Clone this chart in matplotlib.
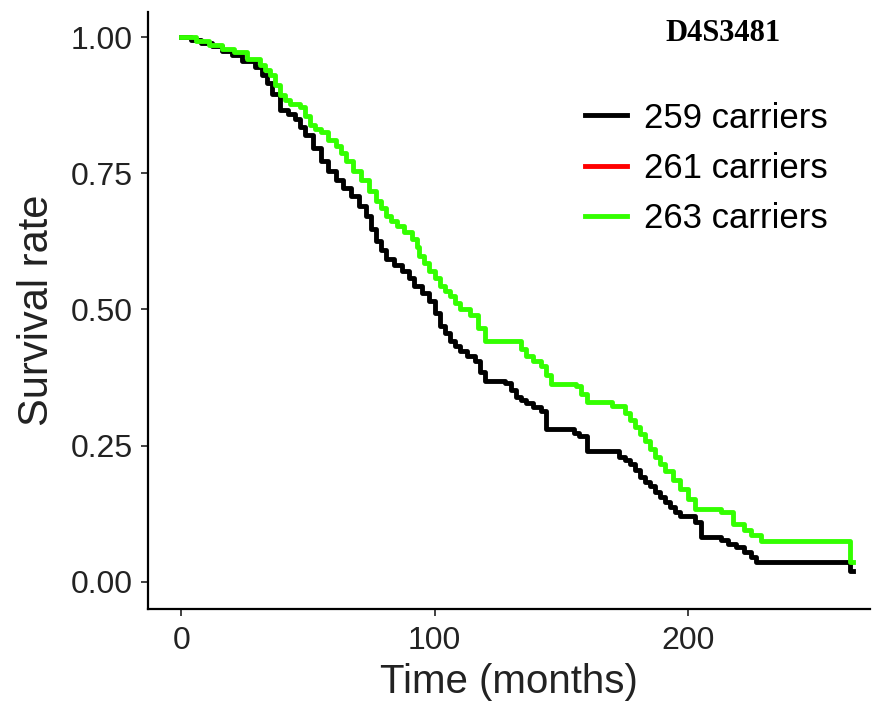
import matplotlib
matplotlib.use("Agg")
import matplotlib.pyplot as plt
from matplotlib.lines import Line2D

plt.rcParams['font.family'] = ['Liberation Sans', 'DejaVu Sans']

# Kaplan-Meier curves (months, survival)
t_259 = [0, 4, 8, 12, 16, 20, 24, 29, 32, 34, 36, 39, 42, 45, 47, 49, 52, 55,
         58, 61, 64, 67, 70, 73, 75, 77, 79, 81, 84, 87, 90, 92, 95, 98, 100,
         102, 104, 106, 108, 110, 113, 116, 118, 120, 128, 130, 132, 134, 136,
         139, 142, 144, 152, 155, 157, 160, 170, 173, 175, 177, 179, 181, 183,
         185, 187, 189, 191, 193, 195, 197, 203, 205, 213, 216, 219, 222, 225,
         227, 264, 265]
s_259 = [1.0, 0.995, 0.99, 0.983, 0.975, 0.967, 0.957, 0.945, 0.93, 0.915,
         0.895, 0.866, 0.858, 0.85, 0.835, 0.82, 0.797, 0.773, 0.755, 0.737,
         0.723, 0.709, 0.69, 0.672, 0.648, 0.626, 0.61, 0.593, 0.582, 0.571,
         0.557, 0.543, 0.53, 0.516, 0.493, 0.47, 0.456, 0.442, 0.433, 0.424,
         0.414, 0.405, 0.386, 0.368, 0.365, 0.352, 0.34, 0.334, 0.328, 0.32,
         0.313, 0.28, 0.28, 0.273, 0.267, 0.24, 0.24, 0.23, 0.223, 0.217, 0.205,
         0.193, 0.184, 0.175, 0.165, 0.156, 0.147, 0.138, 0.129, 0.12, 0.11,
         0.083, 0.077, 0.07, 0.064, 0.055, 0.046, 0.037, 0.02, 0.02]

t_263 = [0, 6, 11, 16, 21, 26, 31, 33, 35, 37, 39, 41, 43, 47, 49, 51, 53, 55,
         58, 61, 63, 65, 68, 71, 74, 77, 79, 81, 83, 85, 88, 91, 93, 94, 96, 98,
         100, 102, 104, 106, 108, 110, 114, 117, 120, 132, 134, 136, 139, 142,
         144, 146, 156, 158, 160, 170, 175, 177, 179, 181, 183, 185, 187, 189,
         191, 194, 197, 200, 203, 213, 218, 222, 225, 229, 264, 265]
s_263 = [1.0, 0.992, 0.985, 0.978, 0.972, 0.96, 0.948, 0.94, 0.93, 0.912,
         0.893, 0.885, 0.878, 0.871, 0.855, 0.838, 0.832, 0.825, 0.812, 0.80,
         0.787, 0.773, 0.755, 0.737, 0.718, 0.70, 0.686, 0.672, 0.663, 0.654,
         0.642, 0.63, 0.614, 0.598, 0.585, 0.571, 0.557, 0.543, 0.534, 0.525,
         0.512, 0.50, 0.49, 0.466, 0.442, 0.442, 0.428, 0.414, 0.405, 0.396,
         0.38, 0.363, 0.359, 0.345, 0.331, 0.322, 0.309, 0.297, 0.285, 0.271,
         0.258, 0.244, 0.23, 0.217, 0.203, 0.187, 0.171, 0.152, 0.133, 0.129,
         0.107, 0.096, 0.085, 0.074, 0.037, 0.037]

labels = ['259 carriers', '261 carriers', '263 carriers']
colors = ['black', '#ff0000', '#33ff00']
x_ticks = [0, 100, 200]
y_ticks = [0.00, 0.25, 0.50, 0.75, 1.00]

fig = plt.figure(figsize=(8.72, 7.09), dpi=100)
ax = fig.add_axes([0.170, 0.141, 0.828, 0.842])

ax.step(t_259, s_259, where='post', color=colors[0], lw=3.5)
ax.step(t_263, s_263, where='post', color=colors[2], lw=3.5)

ax.set_xlim(-13, 272)
ax.set_ylim(-0.05, 1.046)
ax.set_xticks(x_ticks)
ax.set_yticks(y_ticks)
ax.set_yticklabels(['%.2f' % v for v in y_ticks])
ax.tick_params(labelsize=23, length=5, width=1.3, color='#333333',
               labelcolor='#222222')
ax.tick_params(axis='x', pad=7)
ax.tick_params(axis='y', pad=6)
for side in ['top', 'right']:
    ax.spines[side].set_visible(False)
for side in ['left', 'bottom']:
    ax.spines[side].set_linewidth(1.6)

ax.set_xlabel('Time (months)', fontsize=29, color='#222222', labelpad=5)
ax.set_ylabel('Survival rate', fontsize=30, color='#222222', labelpad=10)

fig.text(0.829, 0.953, 'D4S3481', fontsize=22, fontweight='bold',
         family='Liberation Serif', ha='center', va='center')

handles = [Line2D([], [], color=c, lw=3.5) for c in colors]
ax.legend(handles, labels, loc='upper left', bbox_to_anchor=(0.605, 0.85),
          frameon=False, fontsize=25, handlelength=1.2, handletextpad=0.5,
          labelspacing=0.5, borderpad=0, borderaxespad=0)

fig.savefig('out.png', dpi=100)
